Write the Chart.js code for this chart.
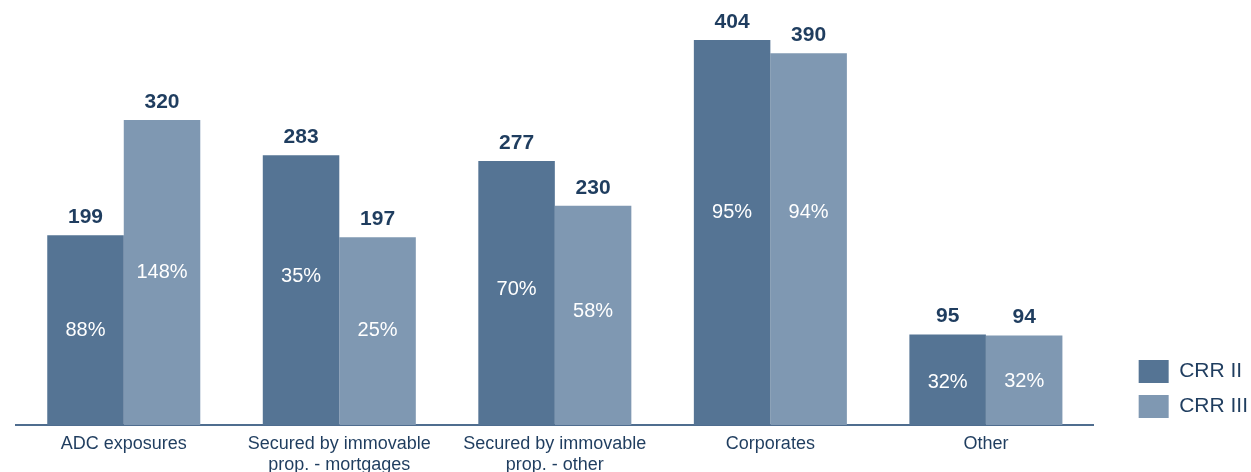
<!DOCTYPE html>
<html>
<head>
<meta charset="utf-8">
<script src="https://cdn.jsdelivr.net/npm/chart.js@4/dist/chart.umd.min.js"></script>
<style>
  html, body { margin: 0; padding: 0; background: #fff; }
  #wrap { width: 1251px; height: 472px; }
</style>
</head>
<body>
<div id="wrap"><canvas id="myChart" width="1251" height="472"></canvas></div>
<script>
const categories = [
    'ADC exposures',
    ['Secured by immovable', 'prop. - mortgages'],
    ['Secured by immovable', 'prop. - other'],
    'Corporates',
    'Other'
];
const crr2 = [199, 283, 277, 404, 95];
const crr3 = [320, 197, 230, 390, 94];
const crr2Pct = ['88%', '35%', '70%', '95%', '32%'];
const crr3Pct = ['148%', '25%', '58%', '94%', '32%'];
// height (in value units) where the % label sits inside each bar
const crr2PctAt = [99, 156, 142, 223, 45];
const crr3PctAt = [160, 99, 119, 223, 46];

const navy = '#1f3d5f';
const font = "'Liberation Sans', Arial, sans-serif";

// values above bars, percentages inside
const barLabels = {
    id: 'barLabels',
    afterDatasetsDraw(chart) {
        const c = chart.ctx;
        const yScale = chart.scales.y;
        c.save();
        c.textAlign = 'center';
        c.textBaseline = 'middle';
        chart.data.datasets.forEach((ds, i) => {
            const meta = chart.getDatasetMeta(i);
            meta.data.forEach((bar, j) => {
                c.font = 'bold 21px ' + font;
                c.fillStyle = navy;
                c.fillText(ds.data[j], bar.x, bar.y - 18);
                c.font = '20px ' + font;
                c.fillStyle = '#ffffff';
                c.fillText(ds.pct[j], bar.x, yScale.getPixelForValue(ds.pctAt[j]));
            });
        });
        c.restore();
    }
};

// move legend next to the plot, a bit above the axis
const legendShift = {
    id: 'legendShift',
    afterLayout(chart) {
        const lg = chart.legend;
        lg.left += 33;
        lg.right += 33;
        lg.top -= 42;
        lg.bottom -= 42;
    }
};

const ctx = document.getElementById('myChart').getContext('2d');
const myChart = new Chart(ctx, {
    type: 'bar',
    data: {
        labels: categories,
        datasets: [{
            label: 'CRR II',
            data: crr2,
            pct: crr2Pct,
            pctAt: crr2PctAt,
            backgroundColor: '#557494',
            borderWidth: 0
        }, {
            label: 'CRR III',
            data: crr3,
            pct: crr3Pct,
            pctAt: crr3PctAt,
            backgroundColor: '#7f98b2',
            borderWidth: 0
        }]
    },
    options: {
        responsive: false,
        animation: false,
        layout: { padding: { left: 16, right: 26, top: 0, bottom: 0 } },
        datasets: {
            bar: { categoryPercentage: 0.71, barPercentage: 1 }
        },
        scales: {
            x: {
                grid: { display: false, drawTicks: false },
                border: { color: '#4f6d8f', width: 2 },
                ticks: {
                    color: navy,
                    font: { family: font, size: 18 },
                    padding: 8,
                    maxRotation: 0,
                    autoSkip: false
                },
                afterFit(scale) { scale.height = 47; }
            },
            y: {
                display: false,
                min: 0,
                max: 446
            }
        },
        plugins: {
            legend: {
                position: 'right',
                align: 'end',
                labels: {
                    boxWidth: 30,
                    boxHeight: 23,
                    padding: 12,
                    color: navy,
                    font: { family: font, size: 21 }
                }
            },
            tooltip: { enabled: false }
        }
    },
    plugins: [barLabels, legendShift]
});
</script>
</body>
</html>
